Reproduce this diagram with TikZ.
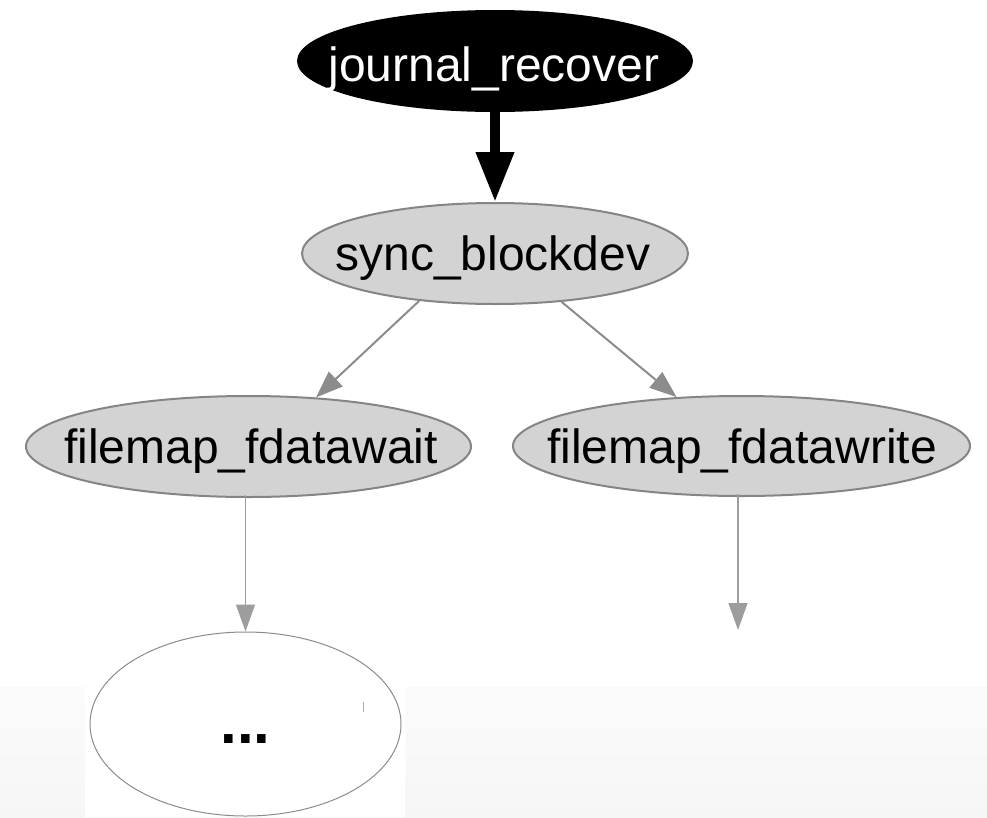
\documentclass[tikz,border=0pt]{standalone}
\usepackage{fontspec}
\setmainfont{Liberation Sans}
\usetikzlibrary{shapes.geometric,arrows.meta}
\definecolor{nodefill}{HTML}{D3D3D3}
\definecolor{nodeline}{HTML}{858585}
\definecolor{edgegray}{HTML}{8C8C8C}
\tikzset{
  fn/.style={ellipse, draw=nodeline, line width=2pt, fill=nodefill, inner sep=0pt},
  rootfn/.style={ellipse, fill=black, inner sep=0pt},
  lbl/.style={anchor=base, inner sep=0pt, font=\fontsize{48}{48}\selectfont},
  moreN/.style={ellipse, draw=edgegray, line width=1pt, fill=white, inner sep=0pt},
  moretext/.style={anchor=base, inner sep=0pt, font=\bfseries\fontsize{60}{60}\selectfont},
  grayedge/.style={draw=edgegray, line width=2pt, -{Triangle[width=20pt,length=27pt]}},
  thinedge/.style={draw=edgegray!85, line width=1.3pt, -{Triangle[width=19pt,length=27pt]}},
  boldedge/.style={draw=black, line width=10pt, -{Triangle[width=36pt,length=50pt]}}
}
\begin{document}
\begin{tikzpicture}[x=1pt,y=-1pt]
\useasboundingbox (0,0) rectangle (987,817);
\fill[white] (0,0) rectangle (987,817);
\shade[top color=black!1.5, bottom color=black!3.5] (0,687) rectangle (987,817);
\fill[white] (85,687) rectangle (405,817);

\node[rootfn, minimum width=396pt, minimum height=102pt] (jr) at (495,61) {};
\node[lbl, text=white] (jrT) at (494,81) {journal\_recover};
\node[fn, minimum width=386pt, minimum height=101pt] (sb) at (495,253.5) {};
\node[lbl] (sbT) at (493,270) {sync\_blockdev};
\node[fn, minimum width=445pt, minimum height=101pt] (fw) at (248.5,446.5) {};
\node[lbl] (fwT) at (251,463) {filemap\_fdatawait};
\node[fn, minimum width=457pt, minimum height=100pt] (fr) at (741.5,446) {};
\node[lbl] (frT) at (742,463) {filemap\_fdatawrite};
\node[moreN, minimum width=311pt, minimum height=184pt] (more) at (245.5,724) {};
\node[moretext] (moreT) at (245.5,743) {...};
\coordinate (hidden) at (738,630);
\coordinate (tickA) at (363,702);
\coordinate (tickB) at (363,712);

\draw[boldedge] (jr.south) -- (sb.north);
\draw[grayedge] (sb.212.9) -- (fw.36.9);
\draw[grayedge] (sb.-36.2) -- (fr.143.1);
\draw[thinedge] ([yshift=3pt]fw.south -| more.north) -- (more.north);
\draw[thinedge] ([yshift=3pt]fr.south -| hidden) -- (hidden);
\draw[edgegray!70, line width=0.8pt] (tickA) -- (tickB);
\end{tikzpicture}
\end{document}
